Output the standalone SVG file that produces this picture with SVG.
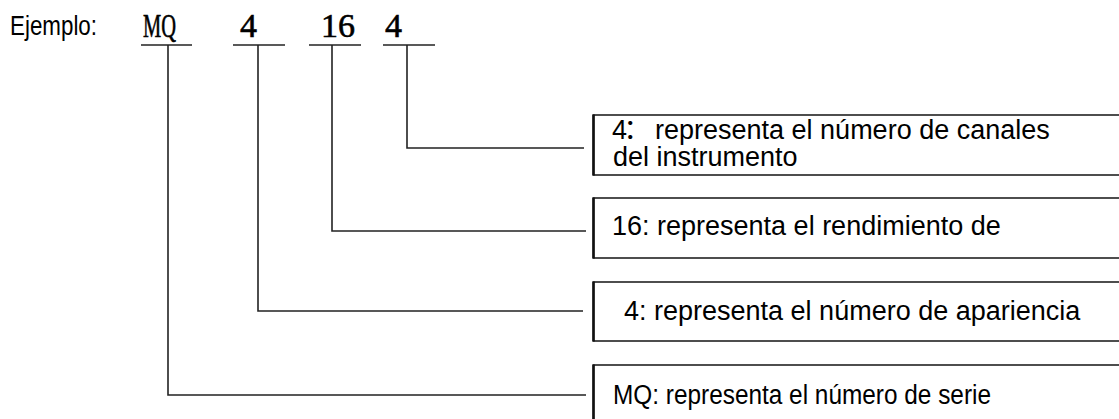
<svg xmlns="http://www.w3.org/2000/svg" width="1119" height="419" viewBox="0 0 1119 419">
  <style>
    .lbl { font-family: "Liberation Sans", Arial, sans-serif; font-size: 27px; fill: #000; }
    .code { font-family: "Liberation Serif", "Times New Roman", serif; font-size: 34px; fill: #000; stroke: #000; stroke-width: 0.6; }
    .ln { stroke: #222; stroke-width: 1.6; fill: none; }
    .box { stroke: #222; stroke-width: 1.6; fill: #fff; }
    .edge { stroke: #111; stroke-width: 2.6; }
  </style>
  <rect width="1119" height="419" fill="#fff"/>

  <!-- model code header -->
  <g id="header">
    <text class="lbl" x="10" y="34.5" textLength="87" lengthAdjust="spacingAndGlyphs">Ejemplo:</text>
    <text class="code" x="143" y="37" textLength="33" lengthAdjust="spacingAndGlyphs">MQ</text>
    <text class="code" x="240" y="37">4</text>
    <text class="code" x="321" y="37">16</text>
    <text class="code" x="385" y="37">4</text>
    <line class="ln" x1="141" y1="45" x2="192" y2="45"/>
    <line class="ln" x1="233" y1="45" x2="285" y2="45"/>
    <line class="ln" x1="309" y1="45" x2="361" y2="45"/>
    <line class="ln" x1="383" y1="45" x2="435" y2="45"/>
  </g>

  <!-- leader lines from each code segment to its description -->
  <g id="connectors">
    <polyline class="ln" points="407,45 407,148 584,148"/>
    <polyline class="ln" points="332,45 332,231 586,231"/>
    <polyline class="ln" points="258,45 258,311 583,311"/>
    <polyline class="ln" points="168,45 168,395 586,395"/>
  </g>

  <g id="box-channels">
    <rect class="box" x="593.5" y="115" width="540" height="60"/>
    <line class="edge" x1="593.5" y1="114.5" x2="593.5" y2="175.5"/>
    <text class="lbl" x="612" y="139">4<tspan x="623.5" font-family="'Noto Sans CJK SC', sans-serif">：</tspan><tspan x="655">representa el número de canales</tspan></text>
    <text class="lbl" x="613" y="166">del instrumento</text>
  </g>

  <g id="box-performance">
    <rect class="box" x="593.5" y="198" width="540" height="60"/>
    <line class="edge" x1="593.5" y1="197.5" x2="593.5" y2="258.5"/>
    <text class="lbl" x="612" y="235">16: representa el rendimiento de</text>
  </g>

  <g id="box-appearance">
    <rect class="box" x="593.5" y="282" width="540" height="59"/>
    <line class="edge" x1="593.5" y1="281.5" x2="593.5" y2="341.5"/>
    <text class="lbl" x="624" y="320">4: representa el número de apariencia</text>
  </g>

  <g id="box-series">
    <rect class="box" x="593.5" y="365" width="540" height="60"/>
    <line class="edge" x1="593.5" y1="364.5" x2="593.5" y2="425"/>
    <text class="lbl" x="613" y="403.5" textLength="378" lengthAdjust="spacingAndGlyphs">MQ: representa el número de serie</text>
  </g>
</svg>
